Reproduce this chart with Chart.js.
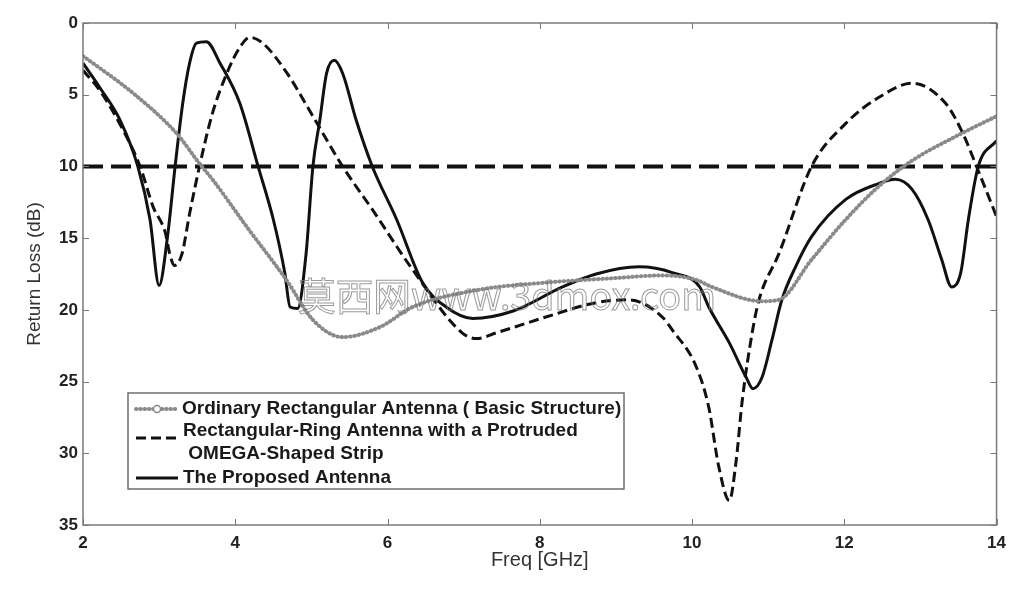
<!DOCTYPE html>
<html>
<head>
<meta charset="utf-8">
<script src="https://cdn.jsdelivr.net/npm/chart.js@4/dist/chart.umd.min.js"></script>
<style>
  body { margin: 0; background: #fff; }
  canvas { display: block; }
</style>
</head>
<body>
<canvas id="chart" width="1014" height="589"></canvas>
<script>
// values
const freqOrdinary = [2.0, 2.66, 3.23, 3.53, 3.7, 4.15, 4.67, 5.02, 5.41, 5.9, 6.33, 7.2, 8.08, 8.95, 9.61, 10.05, 10.26, 10.92, 11.14, 11.57, 12.02, 12.45, 12.89, 13.54, 14.0];
const lossOrdinary = [2.3, 4.9, 7.7, 9.8, 10.9, 14.2, 17.9, 20.7, 21.9, 21.2, 19.8, 18.6, 18.1, 17.8, 17.6, 17.9, 18.4, 19.4, 19.3, 16.5, 13.7, 11.4, 9.6, 7.7, 6.5];

const freqRing = [2.0, 2.22, 2.53, 2.75, 2.92, 3.08, 3.14, 3.2, 3.3, 3.4, 3.53, 3.7, 3.89, 4.06, 4.19, 4.36, 4.68, 5.02, 5.41, 5.8, 6.33, 6.98, 7.17, 7.43, 8.08, 8.74, 9.17, 9.61, 9.74, 10.05, 10.22, 10.35, 10.49, 10.58, 10.66, 10.79, 10.88, 11.14, 11.57, 12.02, 12.45, 12.89, 13.33, 13.54, 13.76, 14.0];
const lossRing = [3.3, 4.7, 7.5, 10.0, 12.8, 14.6, 16.1, 16.9, 16.1, 13.3, 10.0, 6.3, 3.5, 1.7, 1.0, 1.4, 3.5, 6.5, 10.0, 13.0, 17.2, 21.6, 22.0, 21.6, 20.5, 19.5, 19.3, 20.5, 21.4, 23.9, 26.8, 30.9, 33.3, 30.5, 26.3, 21.6, 19.3, 16.1, 10.0, 7.0, 5.2, 4.2, 5.6, 7.5, 10.3, 13.5];

const freqProposed = [2.0, 2.22, 2.49, 2.72, 2.88, 3.0, 3.11, 3.21, 3.31, 3.4, 3.49, 3.62, 3.8, 4.06, 4.3, 4.5, 4.65, 4.72, 4.82, 4.93, 5.02, 5.11, 5.2, 5.3, 5.41, 5.59, 5.8, 6.12, 6.46, 6.77, 7.12, 7.64, 8.3, 8.74, 9.3, 9.74, 10.1, 10.22, 10.49, 10.71, 10.8, 10.92, 11.05, 11.18, 11.36, 11.57, 12.02, 12.45, 12.67, 12.89, 13.1, 13.28, 13.41, 13.53, 13.63, 13.76, 14.0];
const lossProposed = [2.8, 4.5, 6.8, 10.0, 13.7, 18.3, 14.9, 10.0, 5.6, 2.8, 1.4, 1.3, 2.8, 5.6, 10.0, 13.7, 17.4, 19.8, 19.9, 16.1, 10.0, 6.8, 3.5, 2.6, 3.5, 6.8, 10.0, 13.7, 18.1, 19.8, 20.6, 20.1, 18.4, 17.5, 17.0, 17.4, 18.4, 19.8, 22.3, 24.7, 25.5, 24.7, 22.1, 19.3, 17.0, 14.9, 12.3, 11.2, 10.9, 11.6, 13.7, 16.5, 18.4, 17.4, 13.7, 10.0, 8.2];

const thresholdFreq = [2, 14];
const thresholdLoss = [10, 10];

const xTicks = [2, 4, 6, 8, 10, 12, 14];
const yTicks = [0, 5, 10, 15, 20, 25, 30, 35];

const legendLabels = [
  ["Ordinary Rectangular Antenna ( Basic Structure)"],
  ["Rectangular-Ring Antenna with a Protruded", " OMEGA-Shaped Strip"],
  ["The Proposed Antenna"],
];

const watermark = "莫西网www.3dmox.com";

function toPoints(xs, ys) {
  return xs.map((x, i) => ({ x: x, y: ys[i] }));
}

const frameColor = "#7a7a7a";

// frame, inward ticks, legend box and watermark
const decorations = {
  id: "decorations",
  afterDraw(chart) {
    const ctx = chart.ctx;
    const { left, right, top, bottom } = chart.chartArea;
    const xs = chart.scales.x;
    const ys = chart.scales.y;

    ctx.save();
    ctx.strokeStyle = frameColor;
    ctx.lineWidth = 1.5;
    ctx.setLineDash([]);
    ctx.strokeRect(left, top, right - left, bottom - top);

    ctx.lineWidth = 1;
    ctx.beginPath();
    xTicks.forEach((v) => {
      const px = Math.round(xs.getPixelForValue(v)) + 0.5;
      ctx.moveTo(px, bottom); ctx.lineTo(px, bottom - 6);
      ctx.moveTo(px, top); ctx.lineTo(px, top + 6);
    });
    yTicks.forEach((v) => {
      const py = Math.round(ys.getPixelForValue(v)) + 0.5;
      ctx.moveTo(left, py); ctx.lineTo(left + 6, py);
      ctx.moveTo(right, py); ctx.lineTo(right - 6, py);
    });
    ctx.stroke();

    // watermark
    ctx.font = "38px 'Noto Sans CJK SC', serif";
    ctx.textBaseline = "middle";
    ctx.textAlign = "left";
    ctx.strokeStyle = "rgba(120,120,120,0.75)";
    ctx.lineWidth = 1;
    ctx.strokeText(watermark, 298, 296, 418);

    // legend
    const bx = 128, by = 393, bw = 496, bh = 96;
    ctx.fillStyle = "#fff";
    ctx.fillRect(bx, by, bw, bh);
    ctx.strokeStyle = "#6e6e6e";
    ctx.lineWidth = 1.5;
    ctx.strokeRect(bx, by, bw, bh);

    const rows = [
      { y: 409, textX: 182, lines: [409] },
      { y: 438, textX: 183, lines: [431, 454] },
      { y: 478, textX: 183, lines: [478] },
    ];
    ctx.font = "bold 19px 'Liberation Sans', Arial, sans-serif";
    ctx.fillStyle = "#1a1a1a";
    rows.forEach((row, i) => {
      const ds = chart.data.datasets[i];
      ctx.save();
      ctx.strokeStyle = ds.borderColor;
      ctx.lineWidth = ds.borderWidth;
      ctx.lineCap = ds.borderCapStyle || "butt";
      ctx.setLineDash(ds.borderDash || []);
      ctx.beginPath();
      ctx.moveTo(136, row.y);
      ctx.lineTo(178, row.y);
      ctx.stroke();
      if (i === 0) {
        ctx.setLineDash([]);
        ctx.lineWidth = 1.5;
        ctx.fillStyle = "#fff";
        ctx.beginPath();
        ctx.arc(157, row.y, 3.5, 0, Math.PI * 2);
        ctx.fill();
        ctx.stroke();
      }
      ctx.restore();
      legendLabels[i].forEach((t, k) => {
        ctx.fillText(t, row.textX, row.lines[k]);
      });
    });
    ctx.restore();
  },
};

new Chart(document.getElementById("chart"), {
  type: "line",
  data: {
    datasets: [
      {
        label: legendLabels[0].join(""),
        data: toPoints(freqOrdinary, lossOrdinary),
        borderColor: "#8a8a8a",
        borderWidth: 4,
        borderDash: [0.5, 3.8],
        borderCapStyle: "round",
        pointRadius: 0,
        cubicInterpolationMode: "monotone",
      },
      {
        label: legendLabels[1].join(""),
        data: toPoints(freqRing, lossRing),
        borderColor: "#111",
        borderWidth: 3,
        borderDash: [10, 5],
        pointRadius: 0,
        cubicInterpolationMode: "monotone",
      },
      {
        label: legendLabels[2].join(""),
        data: toPoints(freqProposed, lossProposed),
        borderColor: "#111",
        borderWidth: 3,
        pointRadius: 0,
        cubicInterpolationMode: "monotone",
      },
      {
        label: "-10 dB",
        data: toPoints(thresholdFreq, thresholdLoss),
        borderColor: "#111",
        borderWidth: 4,
        borderDash: [20, 8],
        pointRadius: 0,
      },
    ],
  },
  options: {
    responsive: false,
    devicePixelRatio: 1,
    animation: false,
    layout: { padding: { left: 0, top: 23, right: 16, bottom: 0 } },
    plugins: {
      legend: { display: false },
      tooltip: { enabled: false },
    },
    scales: {
      x: {
        type: "linear",
        min: 2,
        max: 14,
        afterBuildTicks: (scale) => { scale.ticks = xTicks.map((v) => ({ value: v })); },
        afterFit: (scale) => { scale.height = 64; },
        grid: { display: false, drawTicks: false },
        border: { display: false },
        ticks: {
          padding: 8,
          color: "#222",
          font: { family: "'Liberation Sans', Arial, sans-serif", size: 17, weight: "bold" },
        },
        title: {
          display: true,
          text: "Freq [GHz]",
          color: "#333",
          padding: { top: 0, bottom: 17 },
          font: { family: "'Liberation Sans', Arial, sans-serif", size: 20 },
        },
      },
      y: {
        type: "linear",
        reverse: true,
        min: 0,
        max: 35,
        afterBuildTicks: (scale) => { scale.ticks = yTicks.map((v) => ({ value: v })); },
        afterFit: (scale) => { scale.width = 83; },
        grid: { display: false, drawTicks: false },
        border: { display: false },
        ticks: {
          padding: 5,
          color: "#222",
          font: { family: "'Liberation Sans', Arial, sans-serif", size: 17, weight: "bold" },
        },
        title: {
          display: true,
          text: "Return Loss (dB)",
          color: "#333",
          padding: { top: 23, bottom: 0 },
          font: { family: "'Liberation Sans', Arial, sans-serif", size: 19 },
        },
      },
    },
  },
  plugins: [decorations],
});
</script>
</body>
</html>
